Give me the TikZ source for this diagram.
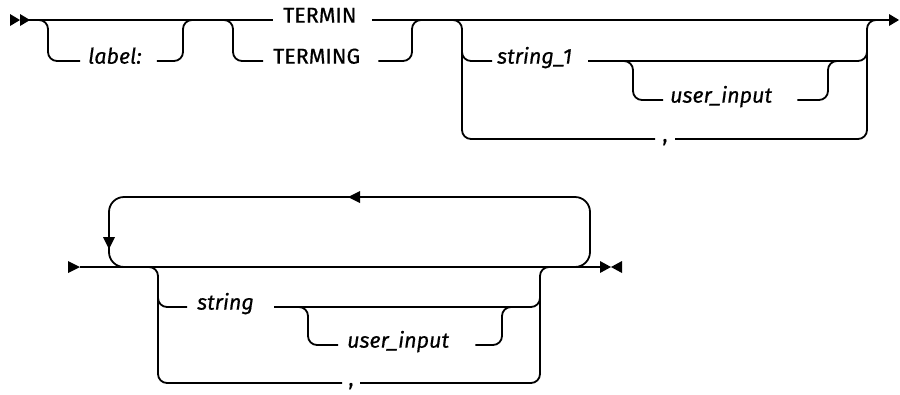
\documentclass[tikz,border=0pt]{standalone}
\usepackage{fontspec}
\setmainfont{Fira Sans}[FakeBold=0.5]
\begin{document}
\begin{tikzpicture}[x=1pt,y=-1pt,
  rr/.style={line width=1.8pt,rounded corners=9pt},
  loop/.style={line width=1.8pt,rounded corners=15pt},
  kw/.style={inner xsep=0pt,inner ysep=1pt,anchor=mid west,font=\fontsize{21.5}{24}\selectfont},
  var/.style={kw,font=\fontsize{21.5}{24}\selectfont\itshape},
  sep/.style={inner sep=0pt,anchor=mid,font=\fontsize{21.5}{24}\selectfont}]
\useasboundingbox (0,0) rectangle (900,394);
% ---------- row 1 ----------
\coordinate (s1) at (28,20);
\coordinate (e1) at (890,20);
\node[var] (label) at (88,61) {label:};
\node[kw] (termin) at (283,20) {TERMIN};
\node[kw] (terming) at (273,61) {TERMING};
\node[var] (str1) at (497,61) {string\_1};
\node[var] (ui1) at (670,100) {user\_input};
\node[sep] (c1) at (665,139) {,};
% arrows
\fill (10,14) -- (20,20) -- (10,26) -- cycle;
\fill (20,14) -- (30,20) -- (20,26) -- cycle;
\fill (e1) ++(-1,-6) -- ++(10,6) -- ++(-10,6) -- cycle;
% main line
\draw[rr] (s1) -- ([xshift=-10pt]termin.mid west);
\draw[rr] ([xshift=15pt]termin.mid east) -- (e1);
% label branch
\draw[rr] (36,20) -| (48,61) -- ([xshift=-8pt]label.mid west);
\draw[rr] ([xshift=15pt]label.mid east) -| (183,20) -- (198,20);
% TERMING branch
\draw[rr] (220,20) -| (233,61) -- ([xshift=-10pt]terming.mid west);
\draw[rr] ([xshift=18pt]terming.mid east) -| (412,20) -- (426,20);
% string_1 / comma group
\draw[rr] (448,20) -| (462,139) -- ([xshift=-10pt]c1.mid);
\draw[rr] (462,40) |- ([xshift=-5pt]str1.mid west);
\draw[rr] ([xshift=10pt]c1.mid) -| (867,20) -- (882,20);
\draw[rr] ([xshift=16pt]str1.mid east) -| (867,40);
\draw[rr] (620,61) -| (633,100) -- ([xshift=-7pt]ui1.mid west);
\draw[rr] ([xshift=25pt]ui1.mid east) -| (828,61) -- (845,61);
% ---------- row 2 ----------
\coordinate (s2) at (80,267);
\coordinate (e2) at (600,267);
\node[var] (str2) at (197,307) {string};
\node[var] (ui2) at (347,345) {user\_input};
\node[sep] (c2) at (351,383) {,};
\fill (68,261) -- (80,267) -- (68,273) -- cycle;
\fill (600,261) -- (611,267) -- (600,273) -- cycle;
\fill (622,261) -- (611,267) -- (622,273) -- cycle;
\draw[rr] (s2) -- (e2);
% repeat loop
\draw[loop] (560,267) -| (590,197) -| (109,267) -- (140,267);
\fill (360,191) -- (348,197) -- (360,203) -- cycle;
\fill (103,237) -- (109,249) -- (115,237) -- cycle;
% choice group
\draw[rr] (145,267) -| (158,383) -- ([xshift=-9pt]c2.mid);
\draw[rr] (158,290) |- ([xshift=-10pt]str2.mid west);
\draw[rr] ([xshift=9pt]c2.mid) -| (540,267) -- (555,267);
\draw[rr] ([xshift=20pt]str2.mid east) -| (540,290);
\draw[rr] (295,307) -| (308,345) -- ([xshift=-9pt]ui2.mid west);
\draw[rr] ([xshift=26pt]ui2.mid east) -| (502,307) -- (516,307);
\end{tikzpicture}
\end{document}
